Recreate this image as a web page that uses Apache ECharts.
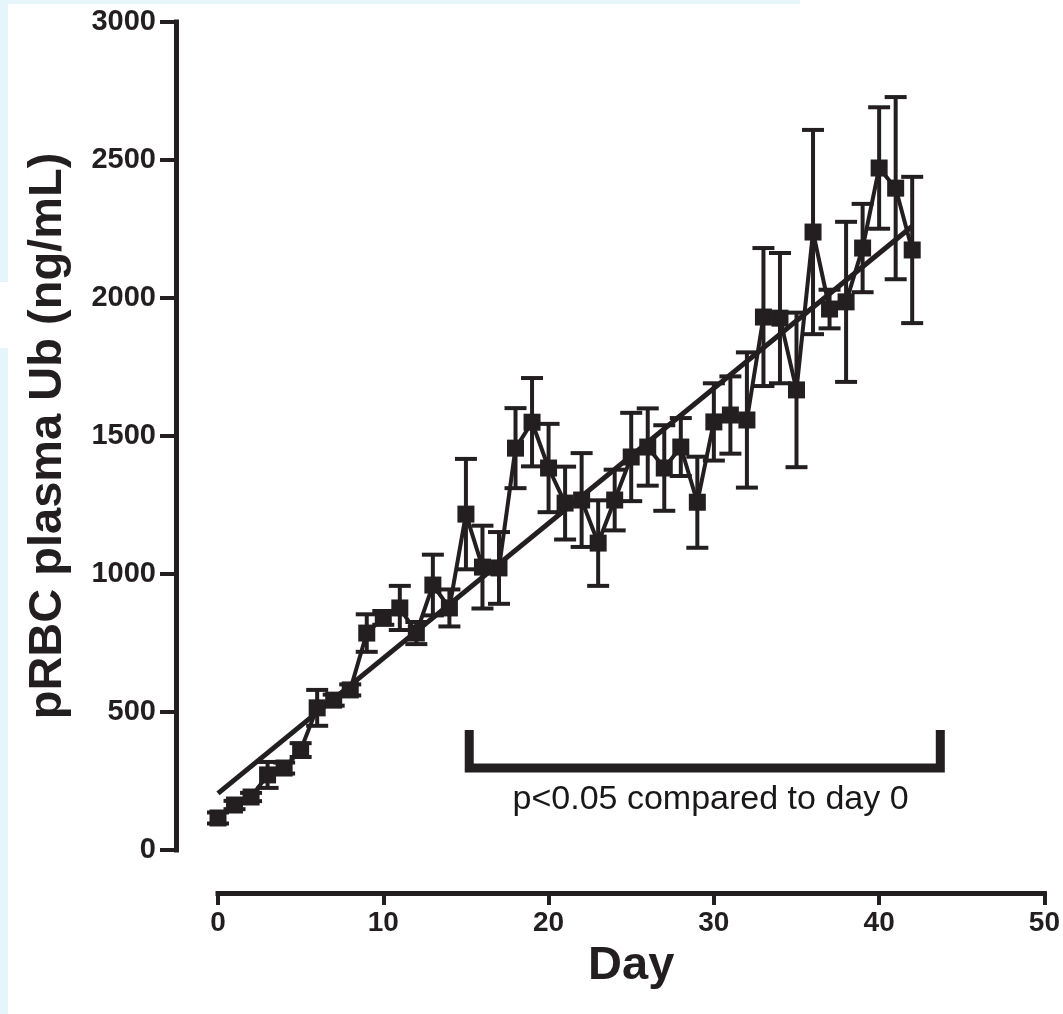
<!DOCTYPE html>
<html>
<head>
<meta charset="utf-8">
<script src="https://cdn.jsdelivr.net/npm/echarts@6/dist/echarts.min.js"></script>
<style>
  html, body { margin: 0; padding: 0; background: #ffffff; }
  #chart { position: absolute; left: 0; top: 0; width: 1063px; height: 1014px; }
  .strip { position: absolute; background: #e6f5fb; pointer-events: none; }
</style>
</head>
<body>
<div id="chart"></div>
<div class="strip" style="left:0;top:0;width:800px;height:4px;"></div>
<div class="strip" style="left:0;top:0;width:8px;height:282px;"></div>
<div class="strip" style="left:0;top:348px;width:8px;height:666px;"></div>
<script>
// ---- data ----
const days = [0,1,2,3,4,5,6,7,8,9,10,11,12,13,14,15,16,17,18,19,20,21,22,23,24,25,26,27,28,29,30,31,32,33,34,35,36,37,38,39,40,41,42];
const means = [116,163,192,272,297,362,515,543,580,786,841,877,786,960,877,1217,1025,1022,1456,1550,1384,1257,1268,1112,1268,1424,1460,1384,1460,1260,1551,1576,1558,1931,1927,1667,2239,1960,1986,2181,2471,2398,2174];
const errors = [20,15,15,47,20,25,65,20,20,68,25,80,40,110,67,200,150,130,145,160,160,132,170,155,110,160,140,155,105,165,140,140,245,250,236,280,370,70,290,160,220,330,265];
const fitLine = [[0, 205], [42, 2260]];
const bracketX = [15.2, 43.7];
const bracketTopY = 435;
const bracketBaseY = 297;
const noteText = 'p<0.05 compared to day 0';
const notePos = [29.8, 181];
const xTicks = [0, 50, 10];   // min, max, interval
const yTicks = [0, 3000, 500];
const xName = 'Day';
const yName = 'pRBC plasma Ub (ng/mL)';

const INK = '#231f20';
const FONT = '"Liberation Sans", Arial, Helvetica, sans-serif';

const meanData = days.map((d, i) => [d, means[i]]);
const errData = days.map((d, i) => [d, means[i] - errors[i], means[i] + errors[i]]);
const bracketData = [
  [bracketX[0], bracketTopY], [bracketX[0], bracketBaseY],
  [bracketX[1], bracketBaseY], [bracketX[1], bracketTopY]
];
const plain = v => String(v);

const chart = echarts.init(document.getElementById('chart'), null, { renderer: 'canvas' });
chart.setOption({
  backgroundColor: '#ffffff',
  animation: false,
  grid: { left: 218, right: 17, top: 22, bottom: 164 },
  xAxis: {
    type: 'value', min: xTicks[0], max: xTicks[1], interval: xTicks[2],
    offset: 43,
    axisLine: { show: true, onZero: false, lineStyle: { color: INK, width: 5, cap: 'square' } },
    axisTick: { show: true, length: 12, lineStyle: { color: INK, width: 4 } },
    axisLabel: { color: INK, fontFamily: FONT, fontWeight: 'bold', fontSize: 28, margin: 16, formatter: plain },
    splitLine: { show: false },
    name: xName, nameLocation: 'middle', nameGap: 50,
    nameTextStyle: { color: INK, fontFamily: FONT, fontWeight: 'bold', fontSize: 47 }
  },
  yAxis: {
    type: 'value', min: yTicks[0], max: yTicks[1], interval: yTicks[2],
    offset: 42,
    axisLine: { show: true, onZero: false, lineStyle: { color: INK, width: 5, cap: 'square' } },
    axisTick: { show: true, length: 16, lineStyle: { color: INK, width: 4 } },
    axisLabel: { color: INK, fontFamily: FONT, fontWeight: 'bold', fontSize: 29, margin: 20, formatter: plain },
    splitLine: { show: false },
    name: yName, nameLocation: 'middle', nameGap: 104, nameRotate: 90,
    nameTextStyle: { color: INK, fontFamily: FONT, fontWeight: 'bold', fontSize: 47 }
  },
  series: [
    {
      name: 'fit', type: 'line', data: fitLine, symbol: 'none',
      lineStyle: { color: INK, width: 5 }, z: 2
    },
    {
      name: 'err', type: 'custom', data: errData, z: 3,
      renderItem: function (params, api) {
        const x = api.value(0);
        const lo = api.coord([x, api.value(1)]);
        const hi = api.coord([x, api.value(2)]);
        const half = 11;
        const style = { stroke: INK, lineWidth: 4, fill: null };
        return {
          type: 'group',
          children: [
            { type: 'line', shape: { x1: lo[0], y1: lo[1], x2: hi[0], y2: hi[1] }, style: style },
            { type: 'line', shape: { x1: hi[0] - half, y1: hi[1], x2: hi[0] + half, y2: hi[1] }, style: style },
            { type: 'line', shape: { x1: lo[0] - half, y1: lo[1], x2: lo[0] + half, y2: lo[1] }, style: style }
          ]
        };
      }
    },
    {
      name: 'mean', type: 'line', data: meanData, symbol: 'rect', symbolSize: 17,
      lineStyle: { color: INK, width: 4 }, itemStyle: { color: INK }, z: 4
    },
    {
      name: 'bracket', type: 'line', data: bracketData, symbol: 'none',
      lineStyle: { color: INK, width: 9, join: 'miter' }, z: 2
    },
    {
      name: 'note', type: 'scatter', data: [notePos], symbolSize: 0, z: 5,
      itemStyle: { opacity: 1 },
      label: {
        show: true, position: 'inside', formatter: noteText,
        color: '#1a1718', fontFamily: FONT, fontSize: 34, opacity: 1, textBorderWidth: 0
      }
    }
  ]
});
</script>
</body>
</html>
